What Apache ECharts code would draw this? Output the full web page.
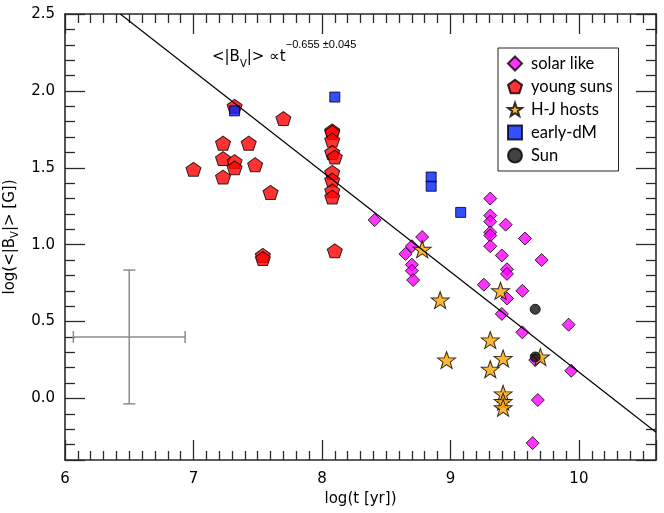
<!DOCTYPE html>
<html>
<head>
<meta charset="utf-8">
<script src="https://cdn.jsdelivr.net/npm/echarts@6/dist/echarts.min.js"></script>
<style>
html, body { margin: 0; padding: 0; background: #fff; }
#chart { width: 664px; height: 513px; }
</style>
</head>
<body>
<div id="chart"></div>
<script>
// solar like stars
var solarX = [8.41, 8.78, 8.70, 8.65, 8.70, 8.70, 8.71, 9.31, 9.31, 9.31, 9.43, 9.31, 9.31, 9.31, 9.40,
              9.44, 9.44, 9.26, 9.56, 9.44, 9.40, 9.58, 9.71, 9.92, 9.56, 9.66, 9.94, 9.68, 9.64];
var solarY = [1.16, 1.05, 0.99, 0.94, 0.87, 0.83, 0.77, 1.30, 1.19, 1.15, 1.13, 1.08, 1.06, 0.99, 0.93,
              0.84, 0.81, 0.74, 0.70, 0.65, 0.55, 1.04, 0.90, 0.48, 0.43, 0.25, 0.18, -0.01, -0.29];
// young suns
var youngX = [7.32, 7.70, 7.23, 7.43, 7.23, 7.32, 7.32, 7.48, 7.00, 7.23, 7.60, 7.54, 7.54,
              8.08, 8.08, 8.08, 8.08, 8.10, 8.08, 8.08, 8.08, 8.08, 8.10];
var youngY = [1.90, 1.82, 1.66, 1.66, 1.56, 1.54, 1.50, 1.52, 1.49, 1.44, 1.34, 0.93, 0.91,
              1.74, 1.73, 1.68, 1.60, 1.57, 1.47, 1.42, 1.35, 1.31, 0.96];
// hot-Jupiter hosts
var hjX = [8.78, 8.92, 8.97, 9.31, 9.31, 9.39, 9.41, 9.41, 9.41, 9.41, 9.70];
var hjY = [0.97, 0.64, 0.25, 0.38, 0.19, 0.70, 0.26, 0.03, -0.02, -0.06, 0.27];
// early M dwarfs
var dmX = [7.32, 8.10, 8.85, 8.85, 9.08];
var dmY = [1.87, 1.96, 1.44, 1.38, 1.21];
// the Sun
var sunX = [9.66, 9.66];
var sunY = [0.58, 0.27];
// power-law fit, end points
var fitX = [6.43, 10.6];
var fitY = [2.5, -0.22];
// typical error bar: x, y, xerr, yerr
var errBar = [6.5, 0.4, 0.435, 0.435];

var seriesNames = ['solar like', 'young suns', 'H-J hosts', 'early-dM', 'Sun'];

function pairs(xs, ys) {
    var out = [];
    for (var i = 0; i < xs.length; i++) out.push([xs[i], ys[i]]);
    return out;
}

var pentagon = 'path://M100,0L195.1,69.1L158.8,180.9L41.2,180.9L4.9,69.1Z';
var star = 'path://M100,0L123.5,67.6L195.1,69.1L138,112.4L158.8,180.9L100,140L41.2,180.9L62,112.4L4.9,69.1L76.5,67.6Z';

var frameColor = '#2a2a2a';
var numFont = 'DejaVu Sans';

function xAx(pos) {
    return {
        type: 'value', position: pos, min: 6, max: 10.6, interval: 1,
        axisLine: { show: true, onZero: false, lineStyle: { color: frameColor, width: 1.6 } },
        axisTick: { show: true, inside: true, length: 20, lineStyle: { color: frameColor, width: 1.3 } },
        minorTick: { show: true, splitNumber: 10, length: 9, lineStyle: { color: frameColor, width: 1.3 } },
        splitLine: { show: false },
        axisLabel: { show: pos === 'bottom', showMaxLabel: false, margin: 12, color: '#000', fontSize: 15, fontFamily: numFont }
    };
}
function yAx(pos) {
    return {
        type: 'value', position: pos, min: -0.4, max: 2.5, splitNumber: 6,
        axisLine: { show: true, onZero: false, lineStyle: { color: frameColor, width: 1.6 } },
        axisTick: { show: true, inside: true, length: 20, lineStyle: { color: frameColor, width: 1.3 } },
        minorTick: { show: true, splitNumber: 5, length: 10, lineStyle: { color: frameColor, width: 1.3 } },
        splitLine: { show: false },
        axisLabel: {
            show: pos === 'left', showMinLabel: false, margin: 10, color: '#000', fontSize: 15, fontFamily: numFont,
            formatter: function (v) { return v.toFixed(1); }
        }
    };
}

var xBottom = xAx('bottom');
xBottom.name = 'log(t [yr])';
xBottom.nameLocation = 'middle';
xBottom.nameGap = 31;
xBottom.nameTextStyle = { color: '#000', fontSize: 15, fontFamily: numFont };

var yLeft = yAx('left');
yLeft.name = '{a|log(<|B}{s|V}{a||> [G])}';
yLeft.nameLocation = 'middle';
yLeft.nameGap = 45;
yLeft.nameRotate = 90;
yLeft.nameTextStyle = {
    color: '#000', fontFamily: numFont,
    rich: {
        a: { fontSize: 15, fontFamily: numFont, color: '#000', lineHeight: 20 },
        s: { fontSize: 10, fontFamily: numFont, color: '#000', lineHeight: 20, verticalAlign: 'bottom', padding: [6, 0, 0, 0] }
    }
};

var markBorder = { borderColor: '#000', borderWidth: 1 };

option = {
    animation: false,
    backgroundColor: '#fff',
    grid: { left: 65, top: 14, right: 8, bottom: 53, containLabel: false, outerBoundsMode: 'none' },
    xAxis: [xBottom, xAx('top')],
    yAxis: [yLeft, yAx('right')],
    legend: {
        data: seriesNames,
        orient: 'vertical',
        left: 498, top: 48,
        padding: [7, 6, 7, 9],
        itemGap: 6,
        itemWidth: 14, itemHeight: 14,
        borderColor: '#222', borderWidth: 1,
        backgroundColor: '#fff',
        textStyle: { fontFamily: 'Lato', fontSize: 16.5, lineHeight: 14, color: '#000', padding: [0, 0, 0, 4] }
    },
    graphic: [{
        type: 'text',
        left: 212, top: 39,
        style: {
            text: '{a|<|B}{s|V}{a||> \u221dt}{p|\u22120.655 \u00b10.045}',
            rich: {
                a: { fontSize: 15, fontFamily: numFont, fill: '#000', lineHeight: 26, verticalAlign: 'bottom' },
                s: { fontSize: 10, fontFamily: numFont, fill: '#000', lineHeight: 26, verticalAlign: 'bottom', padding: [0, 0, -4, 0] },
                p: { fontSize: 11, fontFamily: 'Liberation Sans', fill: '#000', lineHeight: 26, verticalAlign: 'top' }
            }
        }
    }],
    series: [
        {
            name: 'typical error', type: 'custom', xAxisIndex: 0, yAxisIndex: 0,
            silent: true, z: 1,
            renderItem: function (params, api) {
                var x = api.value(0), y = api.value(1), ex = api.value(2), ey = api.value(3);
                var l = api.coord([x - ex, y]), r = api.coord([x + ex, y]);
                var t = api.coord([x, y + ey]), b = api.coord([x, y - ey]);
                var cap = 6;
                var st = { stroke: '#8c8c8c', lineWidth: 1.5 };
                return {
                    type: 'group',
                    children: [
                        { type: 'line', shape: { x1: l[0], y1: l[1], x2: r[0], y2: r[1] }, style: st },
                        { type: 'line', shape: { x1: t[0], y1: t[1], x2: b[0], y2: b[1] }, style: st },
                        { type: 'line', shape: { x1: l[0], y1: l[1] - cap, x2: l[0], y2: l[1] + cap }, style: st },
                        { type: 'line', shape: { x1: r[0], y1: r[1] - cap, x2: r[0], y2: r[1] + cap }, style: st },
                        { type: 'line', shape: { x1: t[0] - cap, y1: t[1], x2: t[0] + cap, y2: t[1] }, style: st },
                        { type: 'line', shape: { x1: b[0] - cap, y1: b[1], x2: b[0] + cap, y2: b[1] }, style: st }
                    ]
                };
            },
            data: [errBar]
        },
        {
            name: 'solar like', type: 'scatter', symbol: 'diamond', symbolSize: 13,
            itemStyle: Object.assign({ color: '#ff00ff' }, markBorder),
            data: pairs(solarX, solarY)
        },
        {
            name: 'young suns', type: 'scatter', symbol: pentagon, symbolSize: [15, 14],
            itemStyle: Object.assign({ color: '#ff0000' }, markBorder),
            data: pairs(youngX, youngY)
        },
        {
            name: 'H-J hosts', type: 'scatter', symbol: star, symbolSize: [18, 17],
            itemStyle: Object.assign({ color: '#ffa500' }, markBorder),
            data: pairs(hjX, hjY)
        },
        {
            name: 'early-dM', type: 'scatter', symbol: 'rect', symbolSize: 10,
            itemStyle: Object.assign({ color: '#0022ff' }, markBorder),
            data: pairs(dmX, dmY)
        },
        {
            name: 'Sun', type: 'scatter', symbol: 'circle', symbolSize: 10,
            itemStyle: Object.assign({ color: '#111' }, markBorder),
            data: pairs(sunX, sunY)
        },
        {
            name: 'fit', type: 'line', showSymbol: false, symbol: 'none', clip: true,
            lineStyle: { color: '#000', width: 1.2 },
            data: pairs(fitX, fitY)
        }
    ]
};

var myChart = echarts.init(document.getElementById('chart'));
myChart.setOption(option);
</script>
</body>
</html>
